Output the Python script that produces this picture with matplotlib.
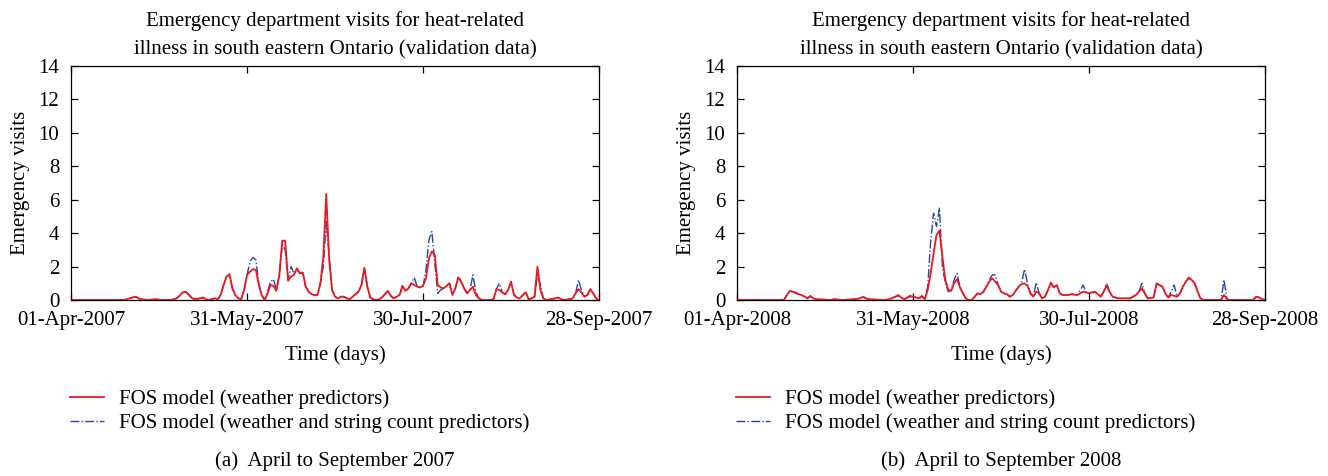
import numpy as np
import matplotlib
matplotlib.use("Agg")
import matplotlib.pyplot as plt

plt.rcParams['font.family'] = ['Liberation Serif', 'DejaVu Serif']

# ---- data (day index from 01-Apr, emergency visits) ----
days_2007 = [0, 18, 20, 22, 23, 24, 26, 29, 31, 34, 36, 37, 38, 39, 40, 41, 42, 44, 45, 46,
             47, 48, 49, 50, 51, 52, 53, 54, 55, 56, 57, 58, 59, 60, 61, 62, 63, 64, 65, 66,
             67, 68, 69, 70, 71, 72, 73, 74, 75, 76, 77, 78, 79, 80, 81, 82, 83, 84, 85, 86,
             87, 88, 89, 90, 91, 92, 93, 94, 95, 96, 97, 98, 99, 100, 101, 102, 103, 104, 105, 106,
             107, 108, 109, 110, 111, 112, 113, 114, 115, 116, 117, 118, 119, 120, 121, 122, 123, 124, 125, 126,
             127, 128, 129, 130, 131, 132, 133, 134, 135, 136, 137, 138, 139, 140, 143, 144, 145, 146, 147, 148,
             149, 150, 151, 152, 153, 154, 155, 156, 157, 158, 159, 160, 161, 162, 165, 166, 167, 168, 170, 171,
             172, 173, 174, 175, 176, 177, 178, 179, 180]
weather_2007 = [0, 0, 0.1, 0.2, 0.1, 0.05, 0, 0.05, 0, 0, 0.1, 0.25, 0.45, 0.5, 0.35, 0.15, 0.05, 0.1, 0.15, 0.05,
                0, 0.05, 0.1, 0.05, 0.3, 0.9, 1.4, 1.55, 0.7, 0.3, 0.1, 0.05, 0.6, 1.5, 1.7, 1.85, 1.8, 0.9, 0.3, 0,
                0.4, 0.9, 0.85, 0.55, 1.5, 3.55, 3.55, 1.15, 1.4, 1.5, 1.9, 1.6, 1.65, 0.8, 0.5, 0.35, 0.3, 0.3, 1.0, 2.6,
                6.35, 2.4, 0.6, 0.2, 0.1, 0.2, 0.2, 0.1, 0.05, 0.2, 0.35, 0.5, 0.9, 1.93, 0.8, 0.15, 0.05, 0, 0.05, 0.15,
                0.35, 0.55, 0.25, 0.1, 0.2, 0.3, 0.85, 0.55, 0.7, 1.0, 0.9, 0.8, 0.75, 0.85, 1.3, 2.5, 2.9, 2.7, 0.9, 0.75,
                0.7, 0.85, 1.0, 0.3, 0.7, 1.35, 1.1, 0.7, 0.4, 0.6, 0.8, 0.3, 0.1, 0, 0, 0.05, 0.65, 0.6, 0.45, 0.35,
                0.6, 1.1, 0.3, 0.15, 0.1, 0.3, 0.45, 0.05, 0.1, 0.2, 2.0, 0.6, 0.1, 0, 0.1, 0.15, 0.05, 0, 0.05, 0.1,
                0.4, 0.65, 0.45, 0.2, 0.3, 0.65, 0.4, 0.1, 0]
string_2007 = [0, 0, 0.1, 0.2, 0.1, 0.05, 0, 0.05, 0, 0, 0.1, 0.25, 0.45, 0.5, 0.35, 0.15, 0.05, 0.1, 0.15, 0.05,
               0, 0.05, 0.1, 0.05, 0.3, 0.9, 1.4, 1.5, 0.7, 0.3, 0.1, 0.05, 0.6, 1.5, 2.3, 2.55, 2.4, 1.0, 0.3, 0,
               0.5, 1.1, 1.25, 0.6, 1.5, 3.3, 3.0, 1.2, 2.0, 1.6, 1.8, 1.6, 1.6, 0.8, 0.5, 0.35, 0.3, 0.3, 1.0, 2.0,
               4.7, 2.6, 0.6, 0.2, 0.1, 0.2, 0.2, 0.1, 0.05, 0.2, 0.35, 0.5, 0.9, 1.9, 0.8, 0.15, 0.05, 0, 0.05, 0.15,
               0.35, 0.55, 0.25, 0.1, 0.2, 0.3, 0.85, 0.55, 0.7, 1.0, 1.35, 0.8, 0.75, 0.85, 1.8, 3.6, 4.1, 2.2, 0.4, 0.6,
               0.7, 0.85, 1.0, 0.3, 0.7, 1.35, 1.1, 0.7, 0.4, 0.6, 1.5, 0.5, 0.1, 0, 0, 0.05, 0.65, 1.0, 0.45, 0.35,
               0.6, 1.1, 0.3, 0.15, 0.1, 0.3, 0.45, 0.05, 0.1, 0.2, 1.5, 0.9, 0.1, 0, 0.1, 0.15, 0.05, 0, 0.05, 0.1,
               0.4, 1.2, 0.6, 0.2, 0.3, 0.65, 0.4, 0.1, 0]

days_2008 = [0, 16, 17, 18, 19, 20, 21, 22, 23, 24, 25, 26, 27, 32, 33, 36, 40, 42, 43, 44,
             45, 50, 52, 54, 55, 56, 57, 59, 60, 61, 62, 63, 64, 65, 66, 67, 68, 69, 70, 71,
             72, 73, 74, 75, 76, 77, 78, 79, 80, 81, 82, 83, 84, 85, 86, 87, 88, 89, 90, 91,
             92, 93, 94, 95, 96, 97, 98, 99, 100, 101, 102, 103, 104, 105, 106, 107, 108, 109, 110, 111,
             113, 114, 116, 118, 119, 120, 121, 122, 123, 124, 125, 126, 127, 128, 129, 130, 134, 136, 137, 138,
             139, 140, 142, 143, 144, 145, 146, 147, 148, 149, 150, 151, 152, 153, 154, 155, 156, 157, 158, 159,
             165, 166, 167, 168, 176, 177, 178, 179, 180]
weather_2008 = [0, 0, 0.3, 0.55, 0.5, 0.45, 0.35, 0.3, 0.2, 0.1, 0.25, 0.1, 0.05, 0, 0.05, 0, 0.05, 0.1, 0.2, 0.1,
                0.05, 0, 0.05, 0.2, 0.3, 0.15, 0.05, 0.25, 0.2, 0.15, 0.1, 0.25, 0.05, 0.6, 1.6, 2.8, 3.9, 4.15, 2.6, 1.2,
                0.6, 0.55, 1.0, 1.25, 0.75, 0.4, 0.1, 0, 0, 0.2, 0.4, 0.35, 0.5, 0.8, 1.1, 1.3, 1.1, 0.9, 0.5, 0.4,
                0.35, 0.2, 0.3, 0.55, 0.8, 0.95, 1.0, 0.85, 0.4, 0.2, 0.5, 0.4, 0.1, 0.2, 0.6, 1.05, 0.75, 0.9, 0.4, 0.3,
                0.3, 0.35, 0.3, 0.5, 0.45, 0.4, 0.45, 0.5, 0.35, 0.2, 0.5, 0.85, 0.5, 0.2, 0.15, 0.1, 0.1, 0.3, 0.5, 0.7,
                0.4, 0.1, 0.15, 1.0, 0.9, 0.8, 0.4, 0.15, 0.3, 0.25, 0.2, 0.4, 0.8, 1.1, 1.35, 1.2, 1.0, 0.5, 0.1, 0,
                0, 0.3, 0.05, 0, 0, 0.2, 0.15, 0.05, 0]
string_2008 = [0, 0, 0.3, 0.5, 0.5, 0.4, 0.35, 0.3, 0.2, 0.1, 0.2, 0.1, 0.05, 0, 0.05, 0, 0.05, 0.1, 0.15, 0.1,
               0.05, 0, 0.05, 0.2, 0.25, 0.15, 0.05, 0.2, 0.2, 0.15, 0.1, 0.2, 0.05, 0.8, 3.5, 5.2, 4.4, 5.5, 2.0, 1.0,
               0.5, 0.6, 1.2, 1.6, 0.8, 0.4, 0.1, 0, 0, 0.2, 0.4, 0.35, 0.5, 0.8, 1.2, 1.5, 1.5, 0.9, 0.5, 0.4,
               0.35, 0.2, 0.3, 0.55, 0.8, 1.0, 1.85, 1.0, 0.4, 0.2, 1.05, 0.4, 0.1, 0.2, 0.6, 1.0, 0.75, 0.9, 0.4, 0.3,
               0.3, 0.35, 0.3, 0.9, 0.45, 0.4, 0.45, 0.5, 0.35, 0.2, 0.5, 1.0, 0.5, 0.2, 0.15, 0.1, 0.1, 0.3, 0.5, 1.0,
               0.4, 0.1, 0.15, 0.9, 0.9, 0.8, 0.4, 0.15, 0.5, 0.9, 0.2, 0.4, 0.8, 1.1, 1.3, 1.2, 1.0, 0.5, 0.1, 0,
               0, 1.2, 0.05, 0, 0, 0.2, 0.15, 0.05, 0]

tick_days = [0, 60, 120, 180]
labels_2007 = ['01-Apr-2007', '31-May-2007', '30-Jul-2007', '28-Sep-2007']
labels_2008 = ['01-Apr-2008', '31-May-2008', '30-Jul-2008', '28-Sep-2008']
captions = ['(a)  April to September 2007', '(b)  April to September 2008']

title = 'Emergency department visits for heat-related\nillness in south eastern Ontario (validation data)'
fs = 15

fig = plt.figure(figsize=(13.28, 4.76), dpi=100)
panels = [(0.0535, days_2007, weather_2007, string_2007, labels_2007, captions[0]),
          (0.555, days_2008, weather_2008, string_2008, labels_2008, captions[1])]

for left, days, red, blue, labels, cap in panels:
    ax = fig.add_axes([left, 0.3697, 0.3976, 0.4916])
    ax.plot(days, red, color='#f0161e', lw=1.3, label='FOS model (weather predictors)', zorder=3)
    ax.plot(days, blue, color='#2446a8', lw=1.0, ls='-.',
            label='FOS model (weather and string count predictors)', zorder=2)
    ax.set_xlim(0, 180)
    ax.set_ylim(0, 14)
    ax.set_yticks(range(0, 15, 2))
    ax.set_xticks(tick_days)
    ax.set_xticklabels(labels)
    ax.tick_params(direction='in', top=True, right=True, length=5, width=0.9, labelsize=fs)
    ax.tick_params(axis='y', pad=8.5)
    ax.tick_params(axis='x', pad=8)
    for s in ax.spines.values():
        s.set_linewidth(0.9)
    ax.set_title(title, fontsize=fs, linespacing=1.62, pad=8.5)
    ax.set_ylabel('Emergency visits', fontsize=fs, labelpad=6)
    ax.set_xlabel('Time (days)', fontsize=fs, labelpad=11)
    ax.legend(loc='upper left', bbox_to_anchor=(-0.017, -0.345), frameon=False,
              fontsize=fs, handlelength=1.6, handletextpad=0.72, labelspacing=0.22,
              borderaxespad=0)
    fig.text(left + 0.3976 / 2, 0.032, cap, ha='center', va='center', fontsize=fs)

fig.savefig('out.png', dpi=100)
